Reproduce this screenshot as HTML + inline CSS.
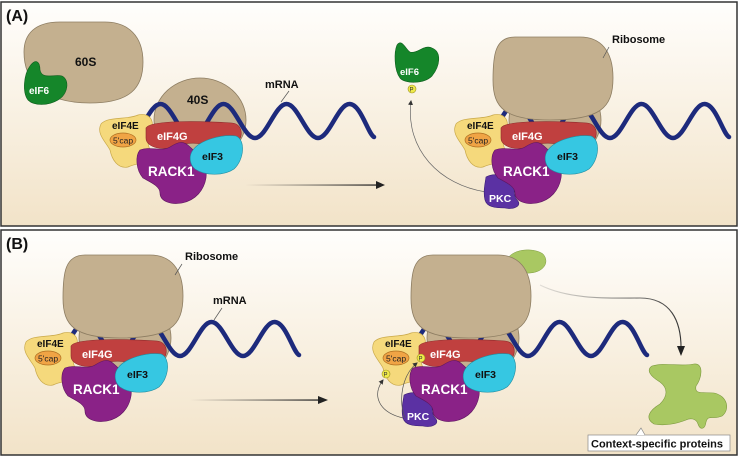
<!DOCTYPE html>
<html><head><meta charset="utf-8"><style>
html,body{margin:0;padding:0;background:#fff;}
svg{display:block;font-family:"Liberation Sans",Arial,sans-serif;font-weight:bold;}
</style></head><body>
<svg width="740" height="457" viewBox="0 0 740 457" xmlns="http://www.w3.org/2000/svg">
<defs>
<linearGradient id="bg" x1="0" y1="0" x2="0" y2="1">
<stop offset="0" stop-color="#fffefc"/><stop offset="1" stop-color="#f2e3c8"/></linearGradient>
<linearGradient id="arr" x1="0" y1="0" x2="1" y2="0">
<stop offset="0" stop-color="#333" stop-opacity="0"/><stop offset="1" stop-color="#222"/></linearGradient>
<linearGradient id="arr2" x1="0" y1="0" x2="1" y2="0">
<stop offset="0" stop-color="#777" stop-opacity="0.2"/><stop offset="1" stop-color="#333"/></linearGradient>
<marker id="ahs" markerWidth="6" markerHeight="6" refX="4" refY="3" orient="auto" markerUnits="userSpaceOnUse">
<path d="M0,0.5 L5,3 L0,5.5 z" fill="#333"/></marker>
<g id="s40">
<ellipse cx="200" cy="120" rx="46" ry="42" fill="#c4b08f" stroke="#8d7d62" stroke-width="0.8"/>
</g>
<g id="wave">
<path d="M129,138 C140.3,138 149.2,104 160.5,104 S180.7,138 192,138 S212.2,104 223.5,104 S243.7,138 255,138 S275.2,104 286.5,104 S306.7,138 318,138 S338.2,104 349.5,104 S368,134 374,137" fill="none" stroke="#1d2a7c" stroke-width="4.5" stroke-linecap="round"/>
</g>
<g id="cx">
<path d="M101,124 C108,116 128,120 138,115 C150,112 156,122 150,132 C146,142 148,150 156,156 C152,164 138,162 128,167 C118,169 112,160 110,150 C106,142 96,134 101,124 z" fill="#f5d97c" stroke="#c9a94a" stroke-width="0.7"/>
<path d="M146,128 C150,120 200,121 232,123 C244,124 244,140 234,144 C215,150 198,139 180,145 C165,152 146,148 146,138 z" fill="#c0403f" stroke="#8e2b2b" stroke-width="0.6"/>
<path d="M140,150 C150,146 162,152 170,147 C178,142 183,140 190,147 C200,156 208,164 206,178 C204,190 196,200 182,203 C170,205 160,201 160,193 C160,186 150,182 143,178 C136,170 135,156 140,150 z" fill="#8a2287" stroke="#5e1760" stroke-width="0.6"/>
<path d="M193,150 C200,140 222,134 236,136 C246,140 244,160 234,169 C224,176 205,176 195,169 C189,164 189,155 193,150 z" fill="#36c7e2" stroke="#1f8ca0" stroke-width="0.6"/>
<ellipse cx="123" cy="140" rx="13" ry="7" fill="#f0a445" stroke="#b07020" stroke-width="0.7"/>
<text x="112" y="129" font-size="10" fill="#111">eIF4E</text>
<text x="113" y="143.5" font-size="8.5" font-weight="normal" fill="#222">5'cap</text>
<text x="157" y="140" font-size="11" fill="#fff">eIF4G</text>
<text x="202" y="160" font-size="10.5" fill="#111">eIF3</text>
<text x="148" y="176" font-size="13.5" fill="#fff">RACK1</text>
</g>
<g id="pkc">
<path d="M131,177 C140,172 150,176 158,180 C160,188 158,196 162,200 C168,206 158,210 150,208 C140,208 132,207 130,200 C128,192 130,184 131,177 z" fill="#5b31a3" stroke="#3b1d75" stroke-width="0.6"/>
<text x="134" y="202" font-size="10.5" fill="#fff">PKC</text>
</g>
<g id="ribo">
<path d="M160,37 C140,37 138,55 138,80 C138,108 150,120 195,120 C245,120 258,108 258,78 C258,50 245,37 225,37 z" fill="#c4b08f" stroke="#8d7d62" stroke-width="0.8"/>
</g>
</defs>

<!-- Panel A -->
<rect x="1" y="2" width="736" height="224" fill="url(#bg)" stroke="#333" stroke-width="1.5"/>
<text x="6" y="21" font-size="16" fill="#111">(A)</text>
<path d="M60,22 C35,22 24,34 24,52 C24,78 40,103 90,103 C130,103 143,88 143,62 C143,36 128,22 105,22 z" fill="#c4b08f" stroke="#8d7d62" stroke-width="0.8"/>
<text x="75" y="66" font-size="12" fill="#111">60S</text>
<path d="M30,66 C36,58 40,62 40,70 C42,80 54,74 62,76 C70,80 68,94 58,100 C48,106 34,106 28,100 C22,92 24,74 30,66 z" fill="#15862a" stroke="#0d5d1c" stroke-width="0.6"/>
<text x="29" y="94" font-size="10" fill="#fff">eIF6</text>
<use href="#s40"/>
<text x="187" y="104" font-size="12" fill="#111">40S</text>
<use href="#wave"/>
<use href="#cx"/>
<text x="265" y="88" font-size="11" fill="#111">mRNA</text>
<line x1="289" y1="91" x2="281" y2="102" stroke="#555" stroke-width="0.7"/>
<rect x="245" y="184.4" width="133" height="1.3" fill="url(#arr)"/>
<path d="M376,181 L385,185 L376,189 z" fill="#222"/>
<path d="M397,45 C402,38 406,50 410,52 C418,54 424,44 432,48 C442,52 440,66 432,76 C424,84 405,84 400,78 C394,70 394,52 397,45 z" fill="#15862a" stroke="#0d5d1c" stroke-width="0.6"/>
<text x="400" y="75" font-size="9.5" fill="#fff">eIF6</text>
<circle cx="412" cy="89" r="4" fill="#f0ea4a" stroke="#9a9020" stroke-width="0.6"/>
<text x="409.5" y="91.5" font-size="6" font-weight="normal" fill="#333">P</text>
<path d="M486,192 C440,185 405,150 411,101" fill="none" stroke="#666" stroke-width="0.7" marker-end="url(#ahs)"/>
<g transform="translate(355,0)">
<use href="#s40"/>
<use href="#wave"/>
<use href="#ribo"/>
<use href="#pkc"/>
<use href="#cx"/>
</g>
<text x="612" y="43" font-size="11" fill="#111">Ribosome</text>
<line x1="609" y1="47" x2="603" y2="58" stroke="#555" stroke-width="0.7"/>

<!-- Panel B -->
<rect x="1" y="230" width="736" height="225" fill="url(#bg)" stroke="#333" stroke-width="1.5"/>
<text x="6" y="249" font-size="16" fill="#111">(B)</text>
<g transform="translate(-75,218)">
<use href="#s40"/>
<use href="#wave"/>
<use href="#ribo"/>
<use href="#cx"/>
</g>
<text x="185" y="260" font-size="11" fill="#111">Ribosome</text>
<line x1="182" y1="264" x2="175" y2="275" stroke="#555" stroke-width="0.7"/>
<text x="213" y="304" font-size="11" fill="#111">mRNA</text>
<line x1="222" y1="308" x2="214" y2="320" stroke="#555" stroke-width="0.7"/>
<rect x="190" y="399.4" width="130" height="1.3" fill="url(#arr)"/>
<path d="M318,396 L328,400 L318,404 z" fill="#222"/>
<path d="M508,258 C515,248 535,248 543,254 C550,262 544,272 530,273 C518,274 505,268 508,258 z" fill="#a9c862" stroke="#7d9a40" stroke-width="0.5"/>
<g transform="translate(273,218)">
<use href="#s40"/>
<use href="#wave"/>
<use href="#ribo"/>
<use href="#pkc"/>
<use href="#cx"/>
</g>
<circle cx="421" cy="358" r="4" fill="#f0ea4a" stroke="#9a9020" stroke-width="0.6"/>
<text x="418.5" y="360.5" font-size="6" font-weight="normal" fill="#333">P</text>
<circle cx="386" cy="374" r="4" fill="#f0ea4a" stroke="#9a9020" stroke-width="0.6"/>
<text x="383.5" y="376.5" font-size="6" font-weight="normal" fill="#333">P</text>
<path d="M403,418 C378,412 372,395 383,380" fill="none" stroke="#555" stroke-width="0.7" marker-end="url(#ahs)"/>
<path d="M405,418 C398,400 402,375 417,363" fill="none" stroke="#555" stroke-width="0.7" marker-end="url(#ahs)"/>
<path d="M540,285 C570,300 610,298 640,298 C670,298 682,320 681,352" fill="none" stroke="url(#arr2)" stroke-width="1.1"/>
<path d="M677,346 L681,356 L685,346 z" fill="#222"/>
<path d="M652,366 C665,362 680,367 694,364 C704,363 702,378 696,386 C694,395 703,392 714,393 C728,396 730,410 722,416 C714,420 708,414 706,422 C705,430 700,430 698,424 C696,418 690,418 686,420 C676,424 664,426 654,424 C644,418 650,410 660,404 C668,396 668,388 660,382 C650,376 646,370 652,366 z" fill="#a9c862" stroke="#7d9a40" stroke-width="0.6"/>
<rect x="588" y="435" width="142" height="16" fill="#fff" stroke="#888" stroke-width="0.7"/>
<path d="M636,435 L641,428 L645,435" fill="#fff" stroke="#888" stroke-width="0.7"/>
<text x="591" y="447.5" font-size="11" fill="#111">Context-specific proteins</text>
</svg>
</body></html>
